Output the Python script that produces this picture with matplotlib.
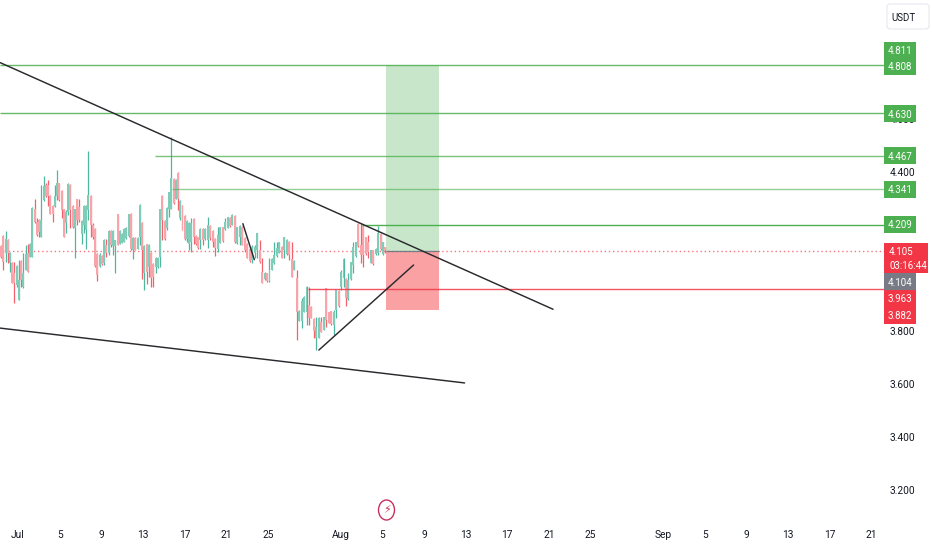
import numpy as np
import matplotlib
matplotlib.use("Agg")
import matplotlib.pyplot as plt
from matplotlib.patches import Rectangle, FancyBboxPatch, Ellipse

plt.rcParams['font.family'] = ['Roboto', 'DejaVu Sans']

candle_dir = ("rrgrgrrggr" "ggrggrrrgg" "rrrrggrrrg" "grrgrrgggg" "rrrrgrgrgr"
              "ggrgggggrg" "rggrgrgrrg" "ggrrgggrgr" "grrgggrrrg" "rggrrrggrg"
              "grgrggrrrr" "gggrrgrggg" "ggrggrrgrg" "gggrrrggrg" "rrrggrggrg"
              "gggrrrrrgr" "ggrgr")
highs = [4.124,4.162,4.177,4.149,4.099,4.061,4.061,4.049,4.067,4.067,
         4.093,4.124,4.130,4.133,4.269,4.300,4.225,4.221,4.350,4.384,
         4.357,4.369,4.313,4.275,4.350,4.407,4.359,4.332,4.259,4.256,
         4.357,4.354,4.275,4.262,4.300,4.300,4.218,4.275,4.275,4.479,
         4.313,4.206,4.187,4.093,4.093,4.086,4.149,4.149,4.181,4.181,
         4.181,4.143,4.243,4.181,4.168,4.187,4.193,4.243,4.246,4.155,
         4.155,4.155,4.279,4.212,4.124,4.130,4.130,4.099,4.055,4.080,
         4.080,4.262,4.313,4.218,4.269,4.325,4.533,4.376,4.372,4.401,
         4.294,4.275,4.237,4.218,4.212,4.225,4.225,4.162,4.155,4.187,
         4.187,4.187,4.231,4.200,4.181,4.150,4.194,4.194,4.194,4.225,
         4.231,4.229,4.241,4.238,4.194,4.200,4.196,4.156,4.131,4.112,
         4.124,4.124,4.171,4.143,4.074,4.024,4.020,4.074,4.074,4.137,
         4.137,4.137,4.120,4.156,4.146,4.141,4.137,4.068,4.030,3.880,
         3.923,3.932,3.970,3.967,3.894,3.848,3.854,3.854,3.854,3.854,
         3.961,3.873,3.877,3.879,3.955,3.955,4.030,4.074,3.999,4.017,
         4.062,4.137,4.137,4.206,4.206,4.200,4.156,4.162,4.106,4.106,
         4.112,4.196,4.168,4.137,4.118]
lows = [4.074,4.030,4.061,4.055,4.023,3.982,3.906,3.967,3.916,3.967,
        3.964,4.030,4.023,4.080,4.080,4.206,4.158,4.155,4.153,4.291,
        4.306,4.271,4.243,4.212,4.269,4.294,4.291,4.228,4.153,4.168,
        4.237,4.187,4.187,4.074,4.200,4.212,4.130,4.168,4.111,4.218,
        4.155,4.149,4.042,3.989,4.042,4.049,4.049,4.080,4.086,4.118,
        4.086,4.017,4.124,4.130,4.133,4.137,4.149,4.155,4.105,4.070,
        4.105,4.111,4.124,3.998,3.954,3.979,4.004,3.967,3.967,4.017,
        4.036,4.042,4.143,4.143,4.181,4.231,4.262,4.281,4.300,4.256,
        4.218,4.181,4.143,4.137,4.105,4.099,4.130,4.124,4.111,4.108,
        4.124,4.143,4.112,4.143,4.118,4.083,4.099,4.131,4.137,4.181,
        4.187,4.194,4.200,4.131,4.128,4.124,4.124,4.099,4.074,4.062,
        4.055,4.074,4.074,4.055,3.980,3.992,3.986,3.986,4.030,4.053,
        4.080,4.093,4.074,4.074,4.087,4.068,4.002,4.030,3.766,3.838,
        3.810,3.873,3.823,3.823,3.848,3.772,3.728,3.772,3.797,3.803,
        3.816,3.829,3.823,3.785,3.848,3.892,3.955,3.967,3.894,3.917,
        3.992,4.017,4.080,4.118,4.055,4.043,4.087,4.074,4.055,4.049,
        4.087,4.087,4.106,4.087,4.093]
body_tops = [4.120,4.158,4.149,4.145,4.095,4.055,4.017,4.045,3.992,4.064,
             4.017,4.090,4.093,4.130,4.266,4.262,4.212,4.218,4.218,4.347,
             4.350,4.350,4.309,4.271,4.309,4.357,4.357,4.329,4.259,4.250,
             4.354,4.350,4.271,4.262,4.298,4.269,4.216,4.272,4.271,4.313,
             4.309,4.200,4.184,4.090,4.086,4.084,4.145,4.124,4.178,4.178,
             4.178,4.143,4.243,4.178,4.165,4.184,4.190,4.240,4.243,4.152,
             4.152,4.152,4.276,4.208,4.120,4.130,4.124,4.095,4.052,4.077,
             4.074,4.262,4.310,4.216,4.266,4.323,4.376,4.373,4.370,4.398,
             4.291,4.271,4.233,4.216,4.208,4.206,4.221,4.158,4.155,4.184,
             4.184,4.184,4.200,4.196,4.178,4.146,4.162,4.191,4.191,4.212,
             4.229,4.226,4.238,4.234,4.191,4.196,4.194,4.150,4.128,4.108,
             4.118,4.118,4.168,4.106,4.024,4.020,4.018,4.030,4.072,4.087,
             4.112,4.134,4.116,4.153,4.143,4.137,4.070,4.065,4.000,3.877,
             3.914,3.929,3.967,3.898,3.892,3.846,3.816,3.850,3.835,3.852,
             3.961,3.870,3.875,3.873,3.955,3.952,4.024,4.072,3.995,3.992,
             4.060,4.118,4.134,4.204,4.124,4.196,4.153,4.137,4.104,4.104,
             4.110,4.168,4.165,4.134,4.116]
body_bottoms = [4.078,4.061,4.093,4.095,4.057,3.982,3.982,3.973,3.916,3.992,
                3.967,4.030,4.023,4.080,4.080,4.212,4.162,4.174,4.155,4.294,
                4.309,4.309,4.243,4.243,4.271,4.309,4.294,4.256,4.155,4.206,
                4.250,4.256,4.193,4.187,4.218,4.218,4.165,4.200,4.181,4.256,
                4.199,4.155,4.045,4.011,4.045,4.052,4.057,4.093,4.093,4.124,
                4.120,4.120,4.124,4.130,4.133,4.137,4.150,4.158,4.111,4.105,
                4.105,4.111,4.155,4.105,4.020,4.023,4.042,4.000,4.004,4.040,
                4.040,4.080,4.218,4.149,4.187,4.262,4.262,4.284,4.300,4.300,
                4.225,4.183,4.149,4.149,4.130,4.137,4.155,4.127,4.115,4.143,
                4.143,4.146,4.143,4.150,4.137,4.112,4.108,4.133,4.140,4.184,
                4.187,4.196,4.200,4.137,4.131,4.156,4.126,4.106,4.076,4.065,
                4.068,4.093,4.106,4.062,3.982,3.995,3.990,3.990,4.032,4.055,
                4.083,4.095,4.076,4.106,4.090,4.087,4.002,4.030,3.873,3.839,
                3.839,3.873,3.873,3.848,3.850,3.800,3.772,3.775,3.797,3.805,
                3.841,3.832,3.825,3.823,3.879,3.894,3.967,3.999,3.923,3.919,
                3.995,4.049,4.082,4.120,4.087,4.087,4.089,4.099,4.058,4.052,
                4.089,4.093,4.108,4.089,4.104]

candle_start_day = -1.63
candle_step_early = 0.2152
candle_step_late = 0.2370
candle_break = 89

tick_days = [0,4,8,12,16,20,24,31,35,39,43,47,51,55,62,66,70,74,78,82]
tick_text = ["Jul","5","9","13","17","21","25","Aug","5","9","13","17","21","25",
             "Sep","5","9","13","17","21"]
price_ticks = [3.2,3.4,3.6,3.8,4.0,4.2,4.4,4.6]
price_tick_text = ["3.200","3.400","3.600","3.800","","","4.400","4.600"]

green_levels = [4.804, 4.621, 4.460, 4.336, 4.200]
green_level_starts = [-1.73, -1.73, 13.2, 14.8, 33.0]
green_level_alpha = [0.85, 0.85, 0.75, 0.6, 1.0]
red_level = 3.958
red_level_start = 27.9
last_price = 4.102
box_days = (35.35, 40.45)
box_target, box_stop = 4.804, 3.879
trend_lines = [((-1.73, 4.813), (51.4, 3.882)),
               ((-1.73, 3.811), (42.9, 3.604)),
               ((28.9, 3.728), (38.0, 4.049)),
               ((21.6, 4.205), (22.7, 4.069))]

W, H = 932, 550
AX_BOTTOM = 524
fig = plt.figure(figsize=(W/100, H/100), dpi=100, facecolor="white")
ax = fig.add_axes([0, (H-AX_BOTTOM)/H, 884/W, AX_BOTTOM/H])
px_per_day = 10.41
ax.set_xlim(-18/px_per_day, (884-18)/px_per_day)
ax.set_ylim(3.8-(AX_BOTTOM-331)/265, 3.8+331/265)
for s in ax.spines.values():
    s.set_visible(False)
ax.yaxis.tick_right()
ax.set_yticks(price_ticks, price_tick_text)
ax.set_xticks(tick_days, tick_text)
ax.tick_params(axis='both', length=0, labelsize=7.3, labelcolor="#131722")
ax.tick_params(axis='y', pad=4.2)
ax.tick_params(axis='x', pad=4.5)

ax.add_patch(Rectangle((box_days[0], last_price), box_days[1]-box_days[0], box_target-last_price,
                       facecolor="#c8e6c9", edgecolor="none", zorder=1))
ax.add_patch(Rectangle((box_days[0], box_stop), box_days[1]-box_days[0], last_price-box_stop,
                       facecolor="#faa1a4", edgecolor="none", zorder=1))

up_body, dn_body, up_wick, dn_wick = "#7fcdb8", "#f9a3aa", "#4fb79f", "#f4606c"
for i, d in enumerate(candle_dir):
    x = candle_start_day + candle_step_early*min(i, candle_break) + candle_step_late*max(i-candle_break, 0)
    up = d == "g"
    ax.vlines(x, lows[i], highs[i], color=up_wick if up else dn_wick, lw=0.9, zorder=3)
    ax.add_patch(Rectangle((x-0.095, body_bottoms[i]), 0.19, body_tops[i]-body_bottoms[i],
                           facecolor=up_body if up else dn_body, edgecolor="none", zorder=3.2))

for p, s, a in zip(green_levels, green_level_starts, green_level_alpha):
    ax.hlines(p, s, ax.get_xlim()[1], color="#4caf50", lw=1.0, alpha=a, zorder=4)
ax.hlines(red_level, red_level_start, ax.get_xlim()[1], color="#f23645", lw=1.0, alpha=0.85, zorder=4)
ax.hlines(last_price, ax.get_xlim()[0], ax.get_xlim()[1], color="#f7525f", lw=1.0,
          linestyles=(0, (1, 2)), alpha=0.8, zorder=2.5)
ax.hlines(last_price-0.001, box_days[0], box_days[1], color="#787b86", lw=0.9, zorder=4)

for (a, b) in trend_lines:
    ax.plot([a[0], b[0]], [a[1], b[1]], color="#2a2a2e", lw=1.05, zorder=5, solid_capstyle="round")

badge_text = ["4.811","4.808","4.630","4.467","4.341","4.209","4.104","3.963","3.882"]
badge_y = [50, 66, 113.5, 155.5, 189, 224.5, 281.5, 298.5, 315]
badge_col = ["#4caf50"]*6 + ["#787b86", "#f23645", "#f23645"]
for t, y, c in zip(badge_text, badge_y, badge_col):
    fig.add_artist(Rectangle((884, H-y-8.5), 32, 17, transform=None, facecolor=c, edgecolor="none", zorder=6))
    fig.text(900, H-y, t, transform=None, ha="center", va="center_baseline", color="white", fontsize=7.0, zorder=7)
fig.add_artist(Rectangle((884, H-273), 44, 30, transform=None, facecolor="#f23645", edgecolor="none", zorder=6))
fig.text(889, H-251, "4.105", transform=None, ha="left", va="center_baseline", color="white", fontsize=7.0, zorder=7)
fig.text(889, H-265, "03:16:44", transform=None, ha="left", va="center_baseline", color="white", fontsize=7.0, zorder=7)

fig.add_artist(FancyBboxPatch((887, H-29), 42, 25, boxstyle="round,pad=0,rounding_size=3", transform=None,
                              facecolor="white", edgecolor="#e6e8ee", lw=0.8, zorder=6))
fig.text(903, H-17, "USDT", transform=None, ha="center", va="center_baseline", color="#131722", fontsize=7.0, zorder=7)

fig.add_artist(Ellipse((386.5, H-510), 16, 20, transform=None, facecolor="white", edgecolor="#c8305f", lw=1.0, zorder=6))
fig.text(386.5, H-510, "\u26a1", transform=None, ha="center", va="center", color="#c8305f",
         fontsize=8, family="DejaVu Sans", zorder=7)

fig.savefig("out.png", dpi=100, facecolor="white")
